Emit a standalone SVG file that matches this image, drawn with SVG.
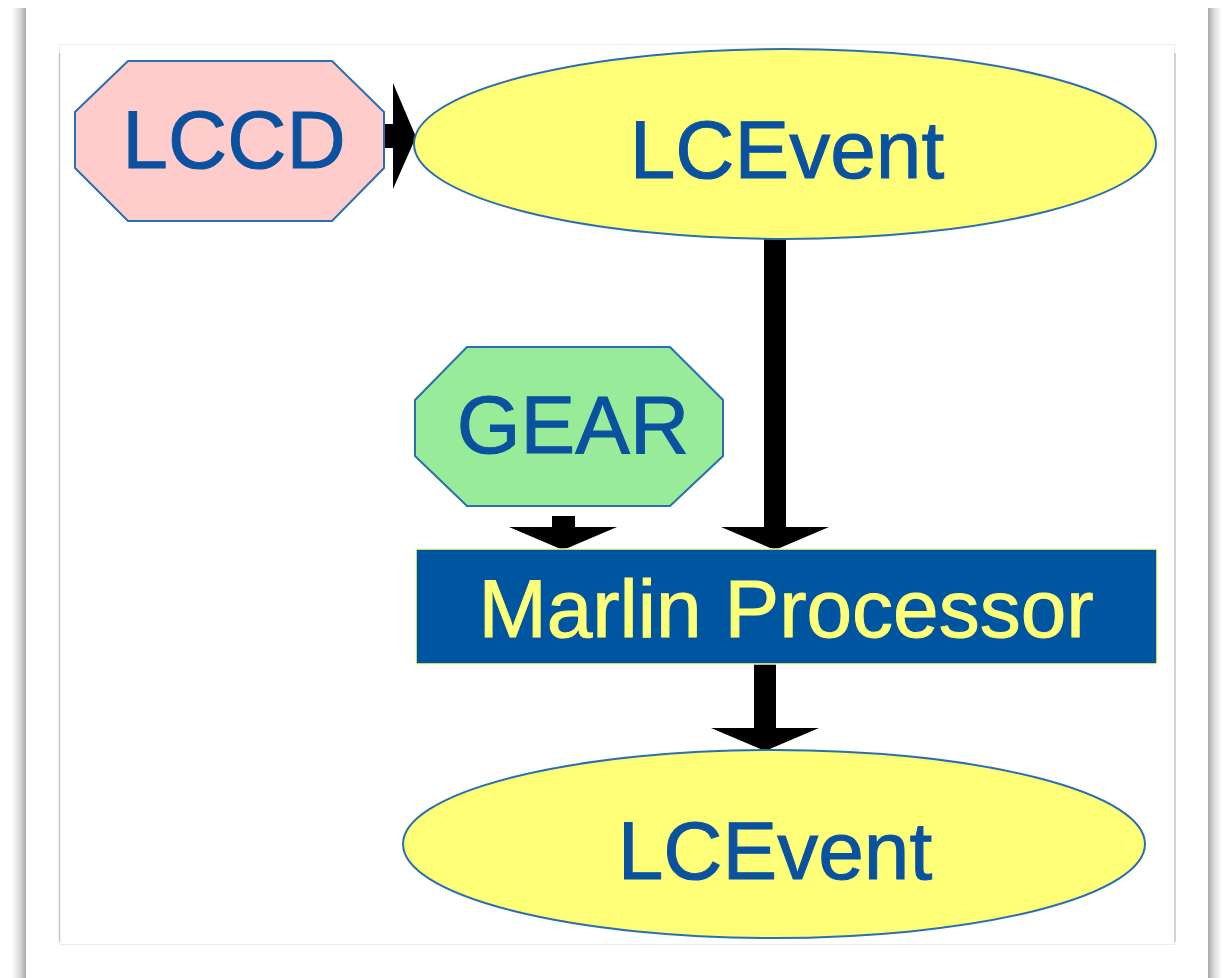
<svg xmlns="http://www.w3.org/2000/svg" width="1223" height="978" viewBox="0 0 1223 978">
  <defs>
    <linearGradient id="edgeL" x1="0" y1="0" x2="1" y2="0">
      <stop offset="0" stop-color="#ffffff"/>
      <stop offset="0.6" stop-color="#d8d8d8"/>
      <stop offset="1" stop-color="#a8a8a8"/>
    </linearGradient>
    <linearGradient id="edgeR" x1="0" y1="0" x2="1" y2="0">
      <stop offset="0" stop-color="#a8a8a8"/>
      <stop offset="0.4" stop-color="#d8d8d8"/>
      <stop offset="1" stop-color="#ffffff"/>
    </linearGradient>
  </defs>
  <style>
    .shape { stroke: #2a6fb0; stroke-width: 2; }
    .label { font-family: "Liberation Sans", Arial, sans-serif; font-size: 82px; text-anchor: middle; fill: #0a52a0; stroke: #0a52a0; stroke-width: 1; }
    .label-inv { fill: #ffff78; stroke: #ffff78; }
    .arrow { fill: #000000; }
  </style>

  <!-- page -->
  <rect x="0" y="0" width="1223" height="978" fill="#ffffff"/>
  <rect x="12" y="8" width="14" height="970" fill="url(#edgeL)"/>
  <rect x="1208" y="8" width="14" height="970" fill="url(#edgeR)"/>
  <rect x="59.5" y="44.5" width="1115" height="900" fill="#ffffff" stroke="#ececec" stroke-width="1"/>
  <line x1="59.5" y1="53" x2="59.5" y2="942" stroke="#c8c8c8" stroke-width="1.5"/>
  <line x1="1175" y1="53" x2="1175" y2="942" stroke="#c8c8c8" stroke-width="1.5"/>

  <!-- connectors -->
  <g id="connectors">
    <!-- LCCD -> LCEvent -->
    <polygon class="arrow" points="384,124 393,124 393,83 416,137 393,189 393,148 384,148"/>
    <!-- LCEvent -> Marlin Processor -->
    <polygon class="arrow" points="764,239 786,239 786,527 829,527 775,550 721,527 764,527"/>
    <!-- GEAR -> Marlin Processor -->
    <polygon class="arrow" points="552,516 575,516 575,527 617,527 563,550 509,527 552,527"/>
    <!-- Marlin Processor -> LCEvent -->
    <polygon class="arrow" points="754,664 776,664 776,728 819,728 765,751 711,728 754,728"/>
  </g>

  <g id="node-lccd">
    <polygon class="shape" fill="#ffcccc" points="128,61 332,61 384,112 384,168 332,221 128,221 75,168 75,112"/>
    <text class="label" x="234" y="168">LCCD</text>
  </g>

  <g id="node-lcevent-in">
    <ellipse class="shape" fill="#ffff78" stroke-width="1.5" cx="785" cy="144" rx="371" ry="95"/>
    <text class="label" x="787" y="178">LCEvent</text>
  </g>

  <g id="node-gear">
    <polygon class="shape" fill="#98eb98" points="467,347 670,347 723,400 723,456 670,506 467,506 415,456 415,400"/>
    <text class="label" x="573" y="453">GEAR</text>
  </g>

  <g id="node-marlin">
    <rect x="416" y="549" width="741" height="115" fill="#0055a0" stroke="#ffff99" stroke-width="1.5"/>
    <text class="label label-inv" x="786" y="637">Marlin Processor</text>
  </g>

  <g id="node-lcevent-out">
    <ellipse class="shape" fill="#ffff78" stroke-width="1.5" cx="774" cy="844" rx="371" ry="94"/>
    <text class="label" x="775" y="879">LCEvent</text>
  </g>
</svg>
